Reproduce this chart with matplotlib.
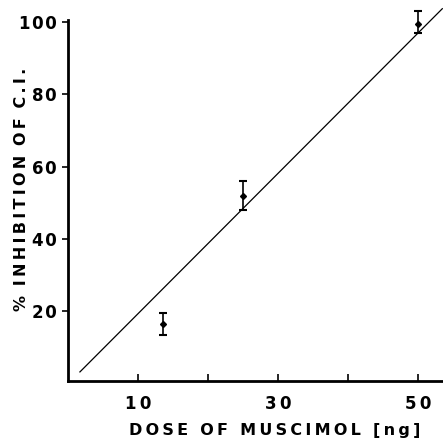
import matplotlib
matplotlib.use('Agg')
import matplotlib.pyplot as plt

# dose of muscimol (ng) and % inhibition of C.I.
dose = [13.5, 25, 50]
inhibition = [16.5, 52, 99.5]
err_low = [3.0, 4.0, 2.5]
err_high = [3.0, 4.0, 3.5]

# fitted regression line end points
fit_x = [1.7, 53.4]
fit_y = [3.3, 103.6]

x_ticks = [10, 30, 50]
x_minor = [20, 40]
y_ticks = [20, 40, 60, 80, 100]

x_title = 'DOSE OF MUSCIMOL [ng]'
y_title = '% INHIBITION OF C.I.'


def spaced(text, sep, gap=None):
    # the original lettering is widely tracked
    if gap is None:
        gap = sep * 3
    return gap.join(sep.join(w) for w in text.split(' '))


def main():
    fig = plt.figure(figsize=(4.43, 4.43), dpi=100)
    ax = fig.add_axes([0.1535, 0.14, 0.8465, 0.815])

    ax.plot(fit_x, fit_y, 'k-', lw=0.9, clip_on=False)
    ax.errorbar(dose, inhibition, yerr=[err_low, err_high], fmt='D', color='k',
                ms=3, elinewidth=1.2, capsize=3, capthick=1.5, clip_on=False)

    ax.set_xlim(0, 53.5)
    ax.set_ylim(0.8, 100.5)

    for s in ['top', 'right']:
        ax.spines[s].set_visible(False)
    for s in ['left', 'bottom']:
        ax.spines[s].set_linewidth(2)

    ax.set_xticks(x_ticks)
    ax.set_xticks(x_minor, minor=True)
    ax.tick_params(axis='x', which='both', direction='in', length=5, width=1.2, pad=10)
    ax.set_xticklabels([spaced(str(t), '\u2009') for t in x_ticks], fontsize=12, fontweight='bold')

    ax.set_yticks(y_ticks)
    ax.tick_params(axis='y', direction='out', length=4, width=1.2, pad=4)
    ax.set_yticklabels([spaced(str(t), '\u200a') for t in y_ticks], fontsize=12, fontweight='bold')

    ax.set_xlabel(spaced(x_title, '\u2009', '\u2009 \u2009'), fontsize=11.5, fontweight='bold')
    ax.xaxis.set_label_coords(0.55, -0.115)
    ax.set_ylabel(spaced(y_title, '\u2009'), fontsize=11.5, fontweight='bold')
    ax.yaxis.set_label_coords(-0.105, 0.53)

    fig.savefig('out.png', dpi=100)


if __name__ == '__main__':
    main()
